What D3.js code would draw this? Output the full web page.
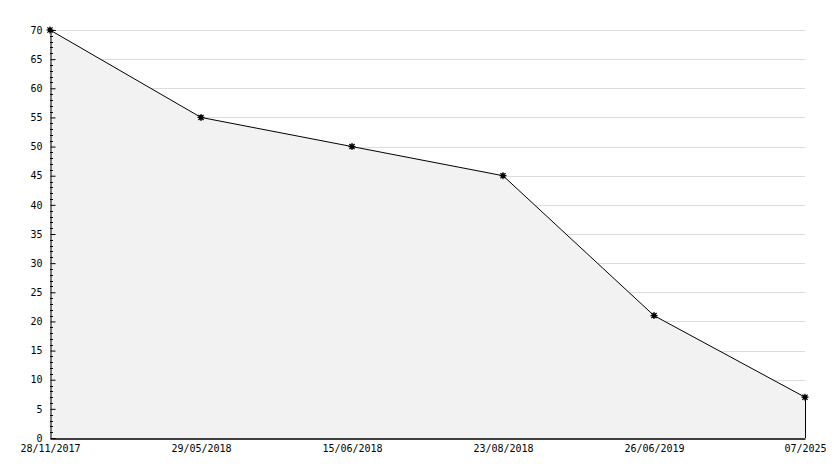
<!DOCTYPE html>
<html><head><meta charset="utf-8">
<script src="https://cdn.jsdelivr.net/npm/d3@7"></script>
<style>body{margin:0;background:#fff}svg{display:block}text{font-family:"DejaVu Sans Mono",monospace;font-size:10px;fill:#000}</style>
</head><body><svg id="c" width="834" height="468"></svg>
<script>
const categories = ["28/11/2017","29/05/2018","15/06/2018","23/08/2018","26/06/2019","07/2025"];
const values = [70,55,50,45,21,7];
const yTicks = [0,5,10,15,20,25,30,35,40,45,50,55,60,65,70];

const svg = d3.select("#c");
const L=50, R=805, T=30, B=438;
const x = d3.scalePoint().domain(categories).range([L,R]);
const y = d3.scaleLinear().domain([0,70]).range([B,T]);

// grid
svg.append("g").selectAll("line").data(yTicks.filter(d=>d>0)).join("line")
  .attr("x1",L).attr("x2",R).attr("y1",d=>Math.round(y(d))+0.5).attr("y2",d=>Math.round(y(d))+0.5)
  .attr("stroke","#dcdcdc").attr("stroke-width",1);

const data = categories.map((c,i)=>({c,v:values[i]}));
const area = d3.area().x(d=>x(d.c)).y0(B).y1(d=>y(d.v));
svg.append("path").datum(data).attr("d",area).attr("fill","#f2f2f2").attr("stroke","none");
const line = d3.line().x(d=>x(d.c)).y(d=>y(d.v));
svg.append("path").datum(data).attr("d",line).attr("fill","none").attr("stroke","#000").attr("stroke-width",1);
// right edge of area
svg.append("line").attr("x1",x(categories[categories.length-1])+0.5).attr("x2",x(categories[categories.length-1])+0.5)
  .attr("y1",y(values[values.length-1])).attr("y2",B).attr("stroke","#000");

// y axis
const ya = svg.append("g").attr("transform",`translate(${L+0.5},0)`)
  .call(d3.axisLeft(y).tickValues(yTicks).tickSize(-5).tickPadding(8).tickFormat(d3.format("d")));
ya.select(".domain").attr("stroke","#000");
ya.selectAll(".tick line").attr("stroke","#000");
ya.selectAll("text").style("font-family","DejaVu Sans Mono").style("font-size","10px").style("font-weight","normal");
// minor ticks
const minor = d3.range(0,71).filter(d=>d%5!==0);
svg.append("g").selectAll("line").data(minor).join("line")
  .attr("x1",L).attr("x2",L+3).attr("y1",d=>Math.round(y(d))+0.5).attr("y2",d=>Math.round(y(d))+0.5)
  .attr("stroke","#000");

// x axis
const xa = svg.append("g").attr("transform",`translate(0,${B+0.5})`)
  .call(d3.axisBottom(x).tickSize(0).tickPadding(6));
xa.select(".domain").attr("stroke","#000").attr("stroke-width",1.5);
xa.selectAll("text").style("font-family","DejaVu Sans Mono").style("font-size","10px");

// markers
const mk = svg.append("g").selectAll("g").data(data).join("g")
  .attr("transform",d=>`translate(${x(d.c)},${y(d.v)})`);
mk.append("circle").attr("r",2.4).attr("fill","#000");
mk.append("path").attr("d","M-3.5,0H3.5M0,-3.5V3.5M-2.6,-2.6L2.6,2.6M-2.6,2.6L2.6,-2.6")
  .attr("stroke","#000").attr("stroke-width",1.2);
</script></body></html>
